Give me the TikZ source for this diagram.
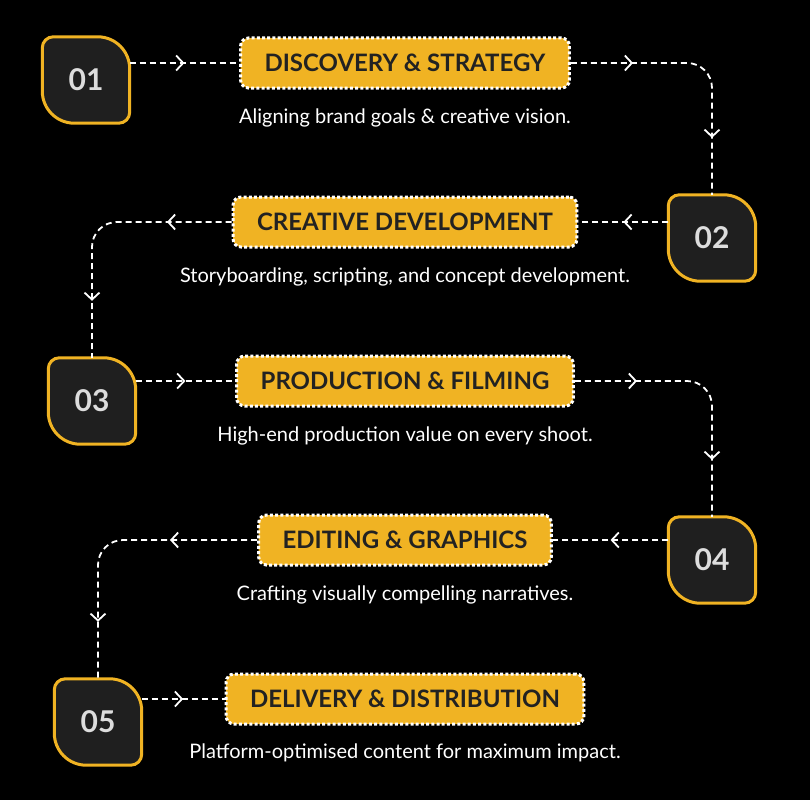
\documentclass[tikz,border=0pt]{standalone}
\usepackage{fontspec}
\setmainfont{Lato}
\usepackage{xcolor}
\usepackage{tikz}
\usetikzlibrary{arrows.meta, positioning, backgrounds, decorations.markings}
\definecolor{stepgold}{RGB}{240,179,35}
\definecolor{leafgrey}{RGB}{31,31,31}
\definecolor{numgrey}{RGB}{221,221,221}
\definecolor{inkdark}{RGB}{34,34,34}

% leaf outline: big radius top right and bottom left
\newcommand{\leaf}[1]{%
  \begin{scope}[x=1pt, y=1pt]
  \filldraw[leaf] ([xshift=11pt]#1.north west) -- ([xshift=-32pt]#1.north east)
    arc[start angle=90, end angle=0, radius=32pt] -- ([yshift=11pt]#1.south east)
    arc[start angle=0, end angle=-90, radius=11pt] -- ([xshift=32pt]#1.south west)
    arc[start angle=270, end angle=180, radius=32pt] -- ([yshift=-11pt]#1.north west)
    arc[start angle=180, end angle=90, radius=11pt] -- cycle;
  \end{scope}}

\begin{document}
\begin{tikzpicture}[x=1pt, y=-1pt,
  numbox/.style={minimum width=87pt, minimum height=86pt, inner sep=0pt,
    font=\fontsize{30}{30}\selectfont\bfseries, text=numgrey},
  leaf/.style={draw=stepgold, fill=leafgrey, line width=3pt},
  titlebox/.style={draw=white, fill=stepgold, line width=3pt,
    dash pattern=on 3pt off 2.2pt, rounded corners=8pt,
    minimum height=50pt, inner xsep=24pt, inner ysep=0pt,
    font=\fontsize{24}{24}\selectfont\bfseries, text=inkdark},
  desc/.style={text=white, inner sep=0pt, font=\fontsize{20}{20}\selectfont},
  flow/.style={draw=white, line width=1.8pt, dash pattern=on 6pt off 4pt,
    rounded corners=25pt},
  midtip/.style={postaction={decorate}, decoration={markings,
    mark=at position 0.5 with {\arrow{Straight Barb[length=7pt,width=15pt]}}}},
  elbowtips/.style={postaction={decorate}, decoration={markings,
    mark=at position -200pt with {\arrow{Straight Barb[length=7pt,width=15pt]}},
    mark=at position -57pt with {\arrow{Straight Barb[length=7pt,width=15pt]}}}}
]
\useasboundingbox (0,0) rectangle (810,800);

\node[numbox] (n1) at (86,80)   {01};
\node[numbox] (n2) at (712,238) {02};
\node[numbox] (n3) at (92,401)  {03};
\node[numbox] (n4) at (712,560) {04};
\node[numbox] (n5) at (98,722)  {05};

\node[titlebox] (t1) at (405,63)  {DISCOVERY \& STRATEGY};
\node[titlebox] (t2) at (405,222) {CREATIVE DEVELOPMENT};
\node[titlebox] (t3) at (405,381) {PRODUCTION \& FILMING};
\node[titlebox] (t4) at (405,540) {EDITING \& GRAPHICS};
\node[titlebox] (t5) at (405,699) {DELIVERY \& DISTRIBUTION};

\node[desc] (d1) at (405,118) {Aligning brand goals \& creative vision.};
\node[desc] (d2) at (405,277) {Storyboarding, scripting, and concept development.};
\node[desc] (d3) at (405,436) {High-end production value on every shoot.};
\node[desc] (d4) at (405,595) {Crafting visually compelling narratives.};
\node[desc] (d5) at (405,753) {Platform-optimised content for maximum impact.};

\begin{scope}[on background layer]
  \fill[black] (0,0) rectangle (810,800);
  \leaf{n1} \leaf{n2} \leaf{n3} \leaf{n4} \leaf{n5}
\end{scope}

% dashed flow
\draw[flow, midtip]    (n1.east |- t1.west) -- (t1.west);
\draw[flow, elbowtips] (t1.east) -| (n2.north);
\draw[flow, midtip]    (n2.west |- t2.east) -- (t2.east);
\draw[flow, elbowtips] (t2.west) -| (n3.north);
\draw[flow, midtip]    (n3.east |- t3.west) -- (t3.west);
\draw[flow, elbowtips] (t3.east) -| (n4.north);
\draw[flow, midtip]    (n4.west |- t4.east) -- (t4.east);
\draw[flow, elbowtips] (t4.west) -| (n5.north);
\draw[flow, midtip]    (n5.east |- t5.west) -- (t5.west);
\end{tikzpicture}
\end{document}
